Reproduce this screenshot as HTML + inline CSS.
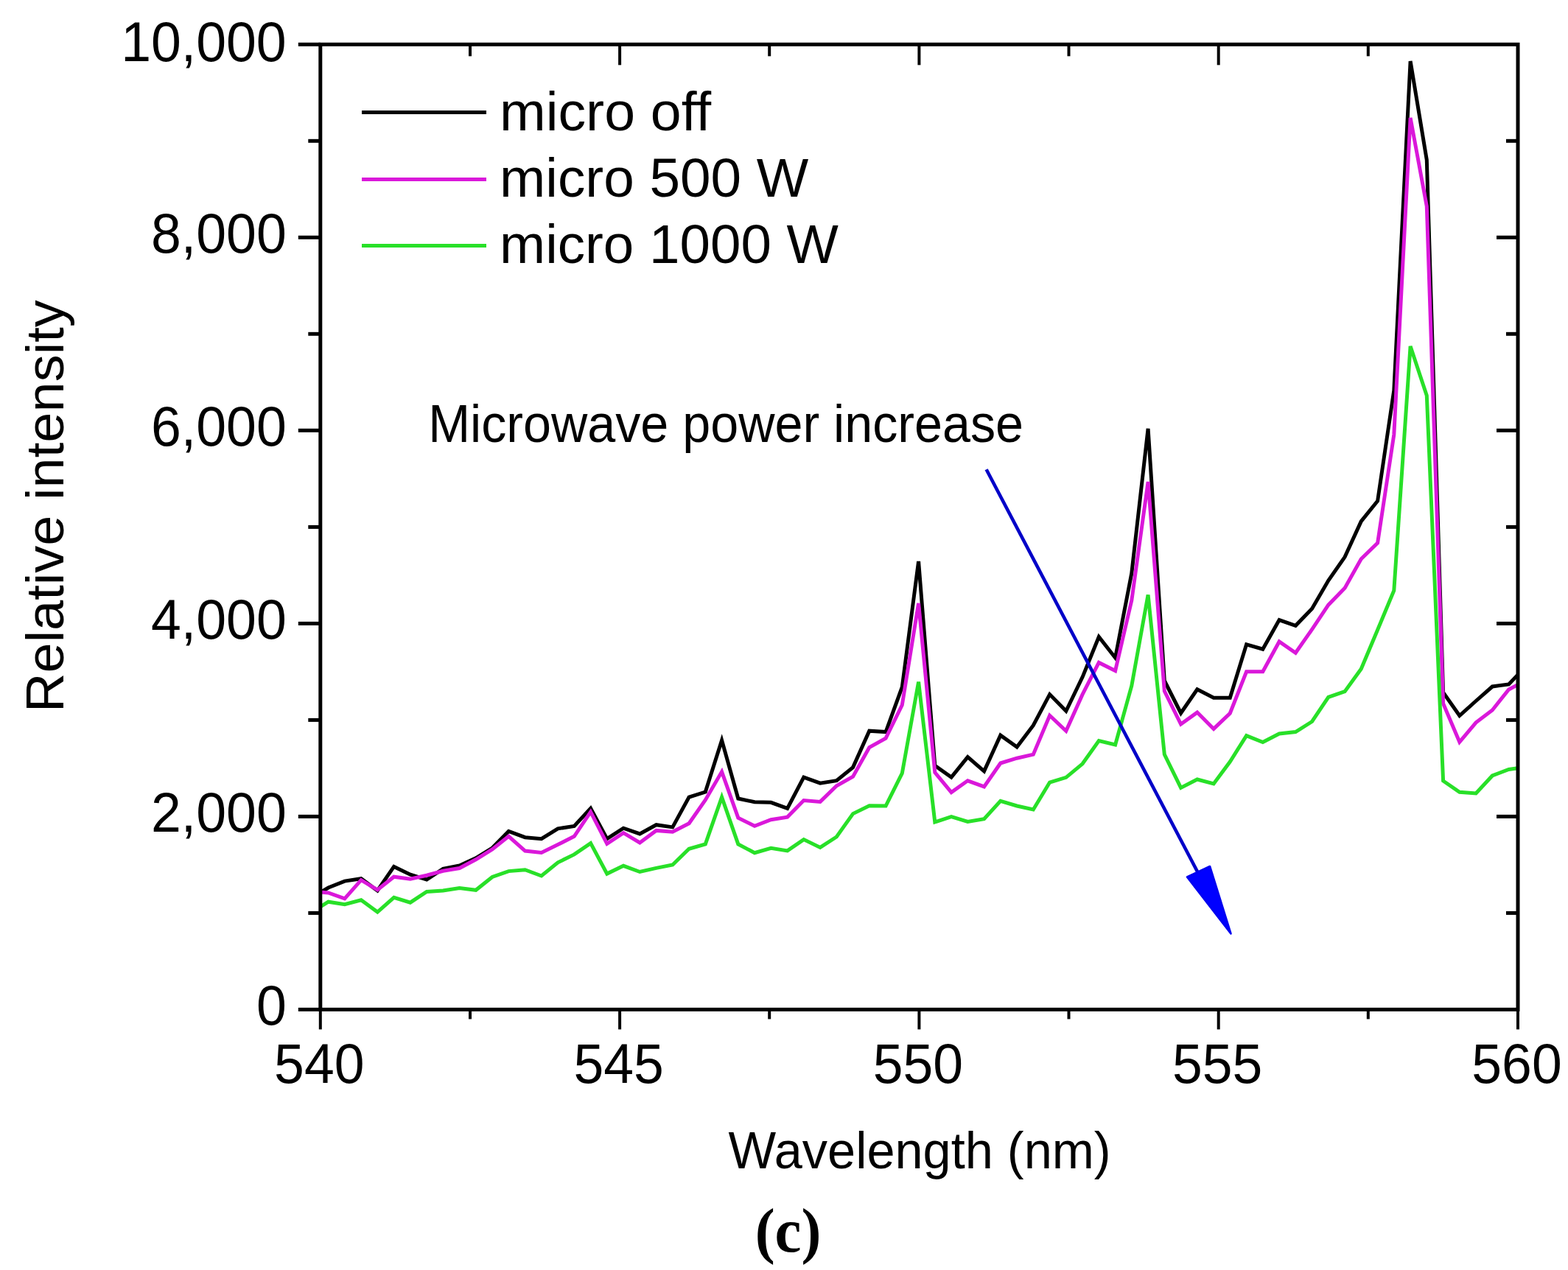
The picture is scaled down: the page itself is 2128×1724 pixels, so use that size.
<!DOCTYPE html>
<html><head><meta charset="utf-8"><title>Relative intensity vs wavelength</title>
<style>
html,body{margin:0;padding:0;background:#fff;}
body{width:2128px;height:1724px;overflow:hidden;}
svg{display:block;}
text{font-family:"Liberation Sans",Arial,sans-serif;fill:#000;}
</style></head><body>
<svg width="2128" height="1724" viewBox="0 0 2128 1724">
<rect width="2128" height="1724" fill="#fff"/>
<defs><clipPath id="pc"><rect x="434.8" y="60.3" width="1625.2" height="1310.1000000000001"/></clipPath></defs>
<g clip-path="url(#pc)" fill="none" stroke-width="5" stroke-linejoin="miter" stroke-miterlimit="4">
<polyline points="434.8,1211.5 445.6,1205.0 467.8,1196.1 490.1,1192.7 512.3,1209.0 534.6,1176.4 556.8,1187.2 579.1,1194.1 601.3,1179.3 623.6,1175.0 645.8,1164.9 668.1,1151.0 690.3,1128.4 712.6,1136.7 734.8,1138.7 757.1,1124.9 779.3,1121.4 801.6,1097.3 823.8,1138.7 846.1,1124.2 868.3,1131.9 890.6,1119.7 912.8,1122.9 935.1,1082.1 957.3,1075.1 979.6,1004.9 1001.8,1084.0 1024.1,1088.8 1046.3,1089.3 1068.6,1097.4 1090.8,1055.1 1113.1,1063.2 1135.3,1059.6 1157.6,1041.6 1179.8,992.2 1202.1,993.6 1224.3,932.7 1246.6,762.0 1268.8,1039.3 1291.1,1055.0 1313.3,1027.6 1335.6,1046.9 1357.8,998.1 1380.1,1014.1 1402.3,984.7 1424.6,942.6 1446.8,965.3 1469.1,919.1 1491.3,864.5 1513.6,893.0 1535.8,778.0 1558.1,581.9 1580.3,924.0 1602.6,968.0 1624.8,935.8 1647.1,947.2 1669.3,947.2 1691.6,874.8 1713.8,881.2 1736.1,841.6 1758.3,849.3 1780.6,826.3 1802.8,788.0 1825.1,756.1 1847.3,707.6 1869.6,680.0 1891.8,530.0 1914.1,83.0 1936.3,217.0 1958.6,940.0 1980.8,971.5 2003.1,951.5 2025.3,932.0 2047.6,929.0 2060.0,916.0" stroke="#000000"/>
<polyline points="434.8,1211.0 445.6,1211.9 467.8,1219.8 490.1,1194.6 512.3,1208.0 534.6,1190.2 556.8,1193.2 579.1,1188.2 601.3,1182.3 623.6,1178.5 645.8,1166.8 668.1,1153.0 690.3,1135.3 712.6,1155.0 734.8,1157.5 757.1,1146.6 779.3,1135.3 801.6,1102.2 823.8,1145.3 846.1,1130.6 868.3,1144.0 890.6,1127.4 912.8,1129.3 935.1,1117.8 957.3,1085.9 979.6,1047.6 1001.8,1110.2 1024.1,1121.3 1046.3,1112.7 1068.6,1109.1 1090.8,1086.6 1113.1,1088.4 1135.3,1066.8 1157.6,1054.2 1179.8,1014.6 1202.1,1002.1 1224.3,957.0 1246.6,818.9 1268.8,1048.6 1291.1,1075.5 1313.3,1059.8 1335.6,1067.9 1357.8,1036.0 1380.1,1029.2 1402.3,1024.2 1424.6,971.2 1446.8,992.2 1469.1,942.6 1491.3,899.4 1513.6,910.5 1535.8,815.0 1558.1,654.0 1580.3,938.0 1602.6,983.0 1624.8,967.1 1647.1,989.4 1669.3,968.2 1691.6,911.8 1713.8,911.8 1736.1,871.0 1758.3,886.3 1780.6,854.4 1802.8,821.2 1825.1,798.2 1847.3,758.7 1869.6,737.0 1891.8,590.0 1914.1,160.0 1936.3,280.0 1958.6,955.0 1980.8,1007.3 2003.1,980.8 2025.3,964.0 2047.6,936.0 2060.0,929.5" stroke="#da18da"/>
<polyline points="434.8,1231.0 445.6,1224.2 467.8,1227.7 490.1,1221.8 512.3,1238.1 534.6,1218.3 556.8,1225.2 579.1,1210.4 601.3,1209.0 623.6,1205.6 645.8,1208.3 668.1,1190.5 690.3,1182.6 712.6,1180.7 734.8,1189.0 757.1,1170.8 779.3,1159.9 801.6,1144.6 823.8,1186.1 846.1,1175.3 868.3,1183.5 890.6,1178.4 912.8,1174.0 935.1,1152.3 957.3,1145.9 979.6,1082.1 1001.8,1145.9 1024.1,1157.7 1046.3,1151.3 1068.6,1154.9 1090.8,1139.6 1113.1,1150.4 1135.3,1136.0 1157.6,1104.6 1179.8,1093.8 1202.1,1094.0 1224.3,1049.6 1246.6,925.6 1268.8,1115.9 1291.1,1108.6 1313.3,1115.5 1335.6,1111.7 1357.8,1087.3 1380.1,1094.0 1402.3,1099.0 1424.6,1062.0 1446.8,1055.3 1469.1,1036.8 1491.3,1005.6 1513.6,1011.0 1535.8,931.0 1558.1,807.4 1580.3,1024.0 1602.6,1069.4 1624.8,1058.0 1647.1,1064.0 1669.3,1034.0 1691.6,998.6 1713.8,1007.5 1736.1,996.0 1758.3,993.5 1780.6,979.5 1802.8,946.3 1825.1,938.6 1847.3,908.0 1869.6,855.0 1891.8,801.7 1914.1,470.0 1936.3,537.0 1958.6,1060.0 1980.8,1075.3 2003.1,1077.0 2025.3,1053.0 2047.6,1044.5 2060.0,1042.7" stroke="#28e028"/>
</g>
<g>
<line x1="404.8" y1="1370.4" x2="434.8" y2="1370.4" stroke="#000" stroke-width="5"/>
<line x1="418.3" y1="1239.4" x2="434.8" y2="1239.4" stroke="#000" stroke-width="5"/>
<line x1="404.8" y1="1108.4" x2="434.8" y2="1108.4" stroke="#000" stroke-width="5"/>
<line x1="418.3" y1="977.4" x2="434.8" y2="977.4" stroke="#000" stroke-width="5"/>
<line x1="404.8" y1="846.4" x2="434.8" y2="846.4" stroke="#000" stroke-width="5"/>
<line x1="418.3" y1="715.4" x2="434.8" y2="715.4" stroke="#000" stroke-width="5"/>
<line x1="404.8" y1="584.3" x2="434.8" y2="584.3" stroke="#000" stroke-width="5"/>
<line x1="418.3" y1="453.3" x2="434.8" y2="453.3" stroke="#000" stroke-width="5"/>
<line x1="404.8" y1="322.3" x2="434.8" y2="322.3" stroke="#000" stroke-width="5"/>
<line x1="418.3" y1="191.3" x2="434.8" y2="191.3" stroke="#000" stroke-width="5"/>
<line x1="404.8" y1="60.3" x2="434.8" y2="60.3" stroke="#000" stroke-width="5"/>
<line x1="2044.0" y1="1239.4" x2="2060.0" y2="1239.4" stroke="#000" stroke-width="5"/>
<line x1="2031.0" y1="1108.4" x2="2060.0" y2="1108.4" stroke="#000" stroke-width="5"/>
<line x1="2044.0" y1="977.4" x2="2060.0" y2="977.4" stroke="#000" stroke-width="5"/>
<line x1="2031.0" y1="846.4" x2="2060.0" y2="846.4" stroke="#000" stroke-width="5"/>
<line x1="2044.0" y1="715.4" x2="2060.0" y2="715.4" stroke="#000" stroke-width="5"/>
<line x1="2031.0" y1="584.3" x2="2060.0" y2="584.3" stroke="#000" stroke-width="5"/>
<line x1="2044.0" y1="453.3" x2="2060.0" y2="453.3" stroke="#000" stroke-width="5"/>
<line x1="2031.0" y1="322.3" x2="2060.0" y2="322.3" stroke="#000" stroke-width="5"/>
<line x1="2044.0" y1="191.3" x2="2060.0" y2="191.3" stroke="#000" stroke-width="5"/>
<line x1="434.8" y1="1370.4" x2="434.8" y2="1397.4" stroke="#000" stroke-width="4"/>
<line x1="638.0" y1="1370.4" x2="638.0" y2="1383.4" stroke="#000" stroke-width="4"/>
<line x1="841.1" y1="1370.4" x2="841.1" y2="1397.4" stroke="#000" stroke-width="4"/>
<line x1="1044.2" y1="1370.4" x2="1044.2" y2="1383.4" stroke="#000" stroke-width="4"/>
<line x1="1247.4" y1="1370.4" x2="1247.4" y2="1397.4" stroke="#000" stroke-width="4"/>
<line x1="1450.5" y1="1370.4" x2="1450.5" y2="1383.4" stroke="#000" stroke-width="4"/>
<line x1="1653.7" y1="1370.4" x2="1653.7" y2="1397.4" stroke="#000" stroke-width="4"/>
<line x1="1856.8" y1="1370.4" x2="1856.8" y2="1383.4" stroke="#000" stroke-width="4"/>
<line x1="2060.0" y1="1370.4" x2="2060.0" y2="1397.4" stroke="#000" stroke-width="4"/>
<line x1="638.0" y1="60.3" x2="638.0" y2="76.3" stroke="#000" stroke-width="4"/>
<line x1="841.1" y1="60.3" x2="841.1" y2="88.3" stroke="#000" stroke-width="4"/>
<line x1="1044.2" y1="60.3" x2="1044.2" y2="76.3" stroke="#000" stroke-width="4"/>
<line x1="1247.4" y1="60.3" x2="1247.4" y2="88.3" stroke="#000" stroke-width="4"/>
<line x1="1450.5" y1="60.3" x2="1450.5" y2="76.3" stroke="#000" stroke-width="4"/>
<line x1="1653.7" y1="60.3" x2="1653.7" y2="88.3" stroke="#000" stroke-width="4"/>
<line x1="1856.8" y1="60.3" x2="1856.8" y2="76.3" stroke="#000" stroke-width="4"/>
<rect x="434.8" y="60.3" width="1625.2" height="1310.1" fill="none" stroke="#000" stroke-width="5"/>
</g>
<text transform="translate(388.7,1391.4) scale(0.971,1)" text-anchor="end" font-size="75.6">0</text>
<text transform="translate(388.7,1129.2) scale(0.971,1)" text-anchor="end" font-size="75.6">2,000</text>
<text transform="translate(388.7,866.9) scale(0.971,1)" text-anchor="end" font-size="75.6">4,000</text>
<text transform="translate(388.7,604.9) scale(0.971,1)" text-anchor="end" font-size="75.6">6,000</text>
<text transform="translate(388.7,342.6) scale(0.971,1)" text-anchor="end" font-size="75.6">8,000</text>
<text transform="translate(388.7,83.2) scale(0.971,1)" text-anchor="end" font-size="75.6">10,000</text>
<text transform="translate(433.3,1470.3) scale(0.959,1)" text-anchor="middle" font-size="76.5">540</text>
<text transform="translate(839.6,1470.3) scale(0.959,1)" text-anchor="middle" font-size="76.5">545</text>
<text transform="translate(1245.9,1470.3) scale(0.959,1)" text-anchor="middle" font-size="76.5">550</text>
<text transform="translate(1652.2,1470.3) scale(0.959,1)" text-anchor="middle" font-size="76.5">555</text>
<text transform="translate(2058.5,1470.3) scale(0.959,1)" text-anchor="middle" font-size="76.5">560</text>
<text transform="translate(988.6,1586.2) scale(0.969,1)" font-size="70.7">Wavelength (nm)</text>
<text transform="translate(85.6,967.0) rotate(-90) scale(1.033,1)" font-size="71.7">Relative intensity</text>
<g font-size="76">
<line x1="491" y1="152.5" x2="660" y2="152.5" stroke="#000000" stroke-width="5"/>
<line x1="491" y1="243.4" x2="660" y2="243.4" stroke="#da18da" stroke-width="5"/>
<line x1="491" y1="333.5" x2="660" y2="333.5" stroke="#28e028" stroke-width="5"/>
<text transform="translate(678.1,176.6) scale(1.003,1)" font-size="75">micro off</text>
<text transform="translate(678.1,266.7) scale(0.996,1)" font-size="75">micro 500 W</text>
<text transform="translate(678.1,357.2) scale(0.994,1)" font-size="75">micro 1000 W</text>

</g>
<text transform="translate(581.2,600.2) scale(0.956,1)" font-size="71.4">Microwave power increase</text>
<line x1="1338.6" y1="637.2" x2="1626" y2="1185" stroke="#0000c8" stroke-width="4.6"/>
<polygon points="1670.5,1267.5 1611,1190.5 1642,1176" fill="#0000ff" stroke="#0000f0" stroke-width="2.6" stroke-linejoin="round"/>
<text transform="translate(1069.5,1699.3) scale(0.947,1)" font-size="85.4" font-weight="bold" text-anchor="middle" style="font-family:'Liberation Serif',serif">(c)</text>
</svg>
</body></html>
